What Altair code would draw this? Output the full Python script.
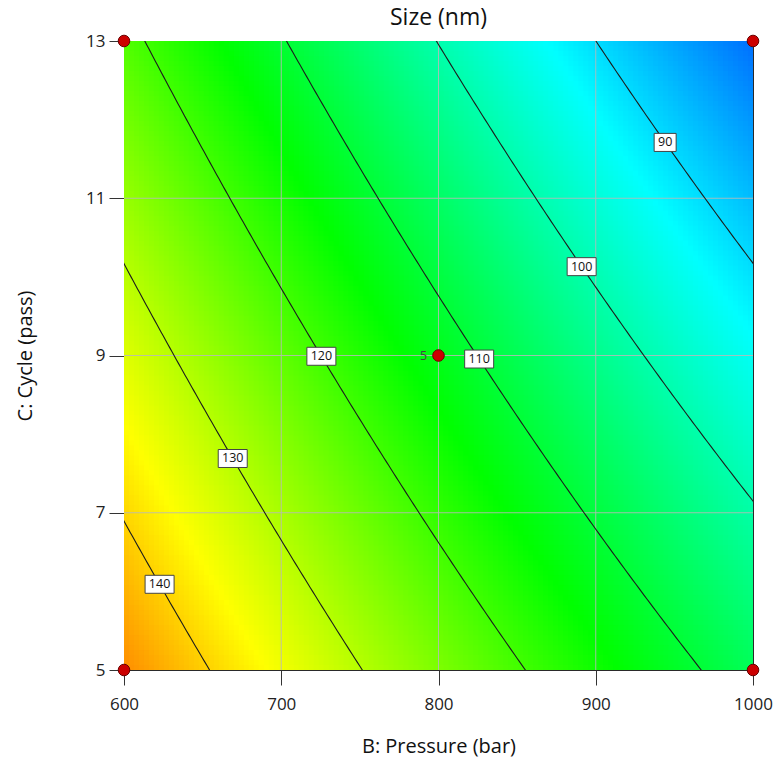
import numpy as np
import pandas as pd
import altair as alt

# Coded-factor response model for Size (nm):
#   b = (Pressure - 800) / 200,  c = (Cycle - 9) / 4
model_terms = ["Intercept", "B", "C", "BC", "B^2", "C^2"]
model_coefs = [112.4, -19.84, -12.69, -0.51, 1.30, 0.15]

pressure_ticks = [600, 700, 800, 900, 1000]
cycle_ticks = [5, 7, 9, 11, 13]

contour_levels = [90, 100, 110, 120, 130, 140]
label_cycles = [11.71, 10.13, 8.955, 8.99, 7.69, 6.09]

design_pressure = [600, 600, 1000, 1000, 800]
design_cycle = [5, 13, 5, 13, 9]
design_runs = [1, 1, 1, 1, 5]

color_stops = [71.3, 93.0, 114.6, 136.2, 157.8]
color_range = ["#0000ff", "#00ffff", "#00ff00", "#ffff00", "#ff0000"]

chart_title = "Size (nm)"

FONT = "Open Sans"
W = H = 629
a0, a1, a2, a12, a11, a22 = model_coefs


def predict(P, Cy):
    b = (np.asarray(P) - 800) / 200
    c = (np.asarray(Cy) - 9) / 4
    return a0 + a1 * b + a2 * c + a12 * b * c + a11 * b * b + a22 * c * c


def pressure_on_contour(level, Cy):
    c = (np.asarray(Cy, dtype=float) - 9) / 4
    qa = a11
    qb = a1 + a12 * c
    qc = a0 + a2 * c + a22 * c * c - level
    disc = np.clip(qb * qb - 4 * qa * qc, 0, None)
    b = (-qb - np.sqrt(disc)) / (2 * qa)
    return 800 + 200 * b


# fine grid of cells for the shaded surface
N = 126
p_edges = np.linspace(600, 1000, N + 1)
c_edges = np.linspace(5, 13, N + 1)
dp = p_edges[1] - p_edges[0]
dc = c_edges[1] - c_edges[0]
P0, C0 = np.meshgrid(p_edges[:-1], c_edges[:-1])
P0 = P0.ravel()
C0 = C0.ravel()
grid = pd.DataFrame({
    "B": P0, "B1": np.minimum(P0 + dp * 1.25, 1000),
    "C": C0, "C1": np.minimum(C0 + dc * 1.25, 13),
    "size": predict(P0 + dp / 2, C0 + dc / 2),
})

# contour polylines
rows = []
cy_path = np.linspace(4.8, 13.2, 169)
for lv in contour_levels:
    pp = pressure_on_contour(lv, cy_path)
    keep = (pp > 585) & (pp < 1015)
    for p, cy in zip(pp[keep], cy_path[keep]):
        rows.append({"level": lv, "B": p, "C": cy})
lines_df = pd.DataFrame(rows)

labels_df = pd.DataFrame({
    "level": contour_levels,
    "C": label_cycles,
    "B": [float(pressure_on_contour(lv, cy)) for lv, cy in zip(contour_levels, label_cycles)],
})

design_df = pd.DataFrame({"B": design_pressure, "C": design_cycle, "runs": design_runs})

xs = alt.Scale(domain=[600, 1000], nice=False, zero=False)
ys = alt.Scale(domain=[5, 13], nice=False, zero=False)

x_axis = alt.Axis(
    values=pressure_ticks, format="d", title="B: Pressure (bar)", grid=False, domain=False,
    tickSize=15, labelPadding=11, labelFlush=False,
    titleX=W / 2, titleY=76, titleBaseline="middle",
)
y_axis = alt.Axis(
    values=cycle_ticks, format="d", title="C: Cycle (pass)", grid=False, domain=False,
    tickSize=15, labelPadding=4, labelFlush=False,
    titleX=-99, titleY=H / 2, titleBaseline="middle",
    titleAlign="center", titleAngle=-90,
)

X = alt.X("B:Q", scale=xs, axis=x_axis)
Y = alt.Y("C:Q", scale=ys, axis=y_axis)

heat = alt.Chart(grid).mark_rect(clip=True).encode(
    x=X,
    x2="B1:Q",
    y=Y,
    y2="C1:Q",
    color=alt.Color("size:Q", scale=alt.Scale(domain=color_stops, range=color_range,
                                              interpolate="rgb"), legend=None),
)

vgrid = alt.Chart(pd.DataFrame({"B": pressure_ticks[1:-1]})).mark_rule(
    color="#b9b9b9", strokeWidth=1, opacity=0.85
).encode(x=X)

hgrid = alt.Chart(pd.DataFrame({"C": cycle_ticks[1:-1]})).mark_rule(
    color="#b9b9b9", strokeWidth=1, opacity=0.85
).encode(y=Y)

contours = alt.Chart(lines_df).mark_line(color="#1c1c1c", strokeWidth=1.1, clip=True).encode(
    x=X,
    y=Y,
    detail="level:N",
    order="C:Q",
)

box2 = "M-1,-0.82L1,-0.82L1,0.82L-1,0.82Z"
box3 = "M-1,-0.62L1,-0.62L1,0.62L-1,0.62Z"
boxes = alt.Chart(labels_df).mark_point(
    filled=True, color="white", stroke="#444444", strokeWidth=1, opacity=1
).encode(
    x=X,
    y=Y,
    shape=alt.condition("datum.level < 100", alt.value(box2), alt.value(box3)),
    size=alt.condition("datum.level < 100", alt.value(484), alt.value(841)),
)

box_text = alt.Chart(labels_df).mark_text(font=FONT, fontSize=12.5, color="#111111").encode(
    x=X,
    y=Y,
    text="level:N",
)

points = alt.Chart(design_df).mark_circle(
    size=135, color="#cc0000", stroke="#6a0000", strokeWidth=1, opacity=1
).encode(x=X, y=Y)

runs_text = alt.Chart(design_df).transform_filter("datum.runs > 1").mark_text(
    font=FONT, fontSize=12.5, color="#444444", dx=-15
).encode(x=X, y=Y, text="runs:N")

# chart heading drawn as a text mark just above the frame
heading = alt.Chart(pd.DataFrame({"t": [chart_title]})).mark_text(
    font=FONT, fontSize=23, color="#111111", baseline="alphabetic", align="center"
).encode(x=alt.value(W / 2), y=alt.value(-16), text="t:N")

chart = alt.layer(
    heat, vgrid, hgrid, contours, boxes, box_text, points, runs_text, heading
).properties(
    width=W,
    height=H,
    padding={"left": 124, "top": 41, "right": 26, "bottom": 96},
    autosize=alt.AutoSizeParams(type="none"),
).configure_view(
    stroke="#2a2a2a", strokeWidth=1
).configure_axis(
    labelFont=FONT, labelFontSize=17, labelColor="#222222",
    titleFont=FONT, titleFontSize=20, titleFontWeight="normal", titleColor="#111111",
    tickColor="#333333", tickWidth=1,
)

chart.save("out.html", embed_options={"renderer": "svg", "actions": False})
